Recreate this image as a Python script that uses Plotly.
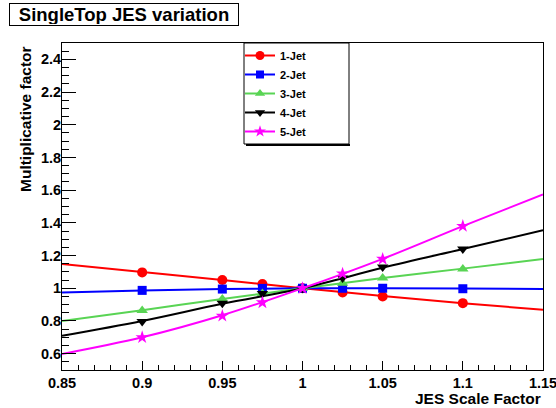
import plotly.graph_objects as go

# ---- data ----
x_points = [0.9, 0.95, 0.975, 1.0, 1.025, 1.05, 1.1]
jet1 = [1.097, 1.050, 1.026, 1.0, 0.974, 0.950, 0.909]
jet2 = [0.987, 0.995, 0.999, 1.0, 1.0, 1.0, 0.997]
jet3 = [0.864, 0.934, 0.968, 1.0, 1.031, 1.063, 1.118]
jet4 = [0.796, 0.909, 0.968, 1.0, 1.063, 1.130, 1.240]
jet5 = [0.700, 0.831, 0.913, 1.0, 1.089, 1.179, 1.380]

x_fit = [0.85, 0.9, 0.95, 1.0, 1.05, 1.1, 1.15]
fit1 = [1.148, 1.099, 1.050, 1.0, 0.952, 0.909, 0.868]
fit2 = [0.974, 0.987, 0.995, 1.0, 1.0, 0.998, 0.995]
fit3 = [0.800, 0.866, 0.934, 1.0, 1.063, 1.120, 1.179]
fit4 = [0.709, 0.800, 0.905, 1.0, 1.125, 1.240, 1.355]
fit5 = [0.598, 0.700, 0.835, 1.0, 1.180, 1.380, 1.574]

names = ["1-Jet", "2-Jet", "3-Jet", "4-Jet", "5-Jet"]
colors = ["#ff0000", "#0000ff", "#59d454", "#000000", "#ff00ff"]
symbols = ["circle", "square", "triangle-up", "triangle-down", "star"]
sizes = [10, 9, 10, 10, 10]
points = [jet1, jet2, jet3, jet4, jet5]
fits = [fit1, fit2, fit3, fit4, fit5]

FONT = "Liberation Sans, Arial, sans-serif"

fig = go.Figure()
for name, c, s, sz, p, f in zip(names, colors, symbols, sizes, points, fits):
    fig.add_trace(go.Scatter(x=x_fit, y=f, mode="lines", line=dict(color=c, width=2, shape="spline"),
                             showlegend=False, hoverinfo="skip"))
    fig.add_trace(go.Scatter(x=x_points, y=p, mode="markers",
                             marker=dict(color=c, symbol=s, size=sz, line=dict(width=0)),
                             showlegend=False))
for name, c, s, sz in zip(names, colors, symbols, sizes):
    fig.add_trace(go.Scatter(x=[None], y=[None], mode="lines+markers", name=name,
                             line=dict(color=c, width=2),
                             marker=dict(color=c, symbol=s, size=sz - 1, line=dict(width=0))))

L, R, T, B = 62, 13, 43, 38
W, H = 556, 408
pw, ph = W - L - R, H - T - B


def px(xp):
    return (xp - L) / pw


def py(yp):
    return (H - B - yp) / ph


fig.update_layout(
    width=W, height=H,
    margin=dict(l=L, r=R, t=T, b=B, pad=0, autoexpand=False),
    paper_bgcolor="white", plot_bgcolor="white",
    font=dict(family=FONT, size=14, color="black", weight="bold"),
    legend=dict(x=px(240), y=py(41), xanchor="left", yanchor="top",
                bgcolor="rgba(0,0,0,0)", borderwidth=0,
                font=dict(family=FONT, size=11, weight="bold"),
                itemwidth=30),
    xaxis=dict(range=[0.85, 1.15], tickvals=[0.85, 0.9, 0.95, 1.0, 1.05, 1.1, 1.15],
               ticktext=["0.85", "0.9", "0.95", "1", "1.05", "1.1", "1.15"],
               ticks="inside", ticklen=9, tickcolor="black", tickwidth=1,
               minor=dict(dtick=0.01, tick0=0.85, ticks="inside", ticklen=5, tickcolor="black"),
               showline=True, linecolor="black", linewidth=1, mirror=True,
               showgrid=False, zeroline=False, tickfont=dict(size=14.5),
               ticklabeloverflow="allow", automargin=False),
    yaxis=dict(range=[0.5, 2.5], tickvals=[0.6, 0.8, 1.0, 1.2, 1.4, 1.6, 1.8, 2.0, 2.2, 2.4],
               ticktext=["0.6", "0.8", "1", "1.2", "1.4", "1.6", "1.8", "2", "2.2", "2.4"],
               ticks="inside", ticklen=14, tickcolor="black", tickwidth=1,
               minor=dict(dtick=0.05, tick0=0.5, ticks="inside", ticklen=7, tickcolor="black"),
               showline=True, linecolor="black", linewidth=1, mirror=True,
               showgrid=False, zeroline=False, tickfont=dict(size=14.5),
               ticklabelstandoff=-3, automargin=False),
)

# legend box with ROOT-like shadow
fig.add_shape(type="line", xref="paper", yref="paper", x0=px(246), x1=px(350), y0=py(145), y1=py(145),
              line=dict(color="black", width=2), layer="above")
fig.add_shape(type="rect", xref="paper", yref="paper", x0=px(244), x1=px(349), y0=py(43), y1=py(144),
              line=dict(color="black", width=1), fillcolor="white", layer="above")

fig.add_annotation(text="SingleTop JES variation", xref="paper", yref="paper",
                   x=px(9), y=py(3), xanchor="left", yanchor="top", showarrow=False,
                   font=dict(size=18.5, family=FONT, weight="bold"),
                   bordercolor="black", borderwidth=1, bgcolor="white",
                   width=226, height=19, align="center", borderpad=1)
fig.add_annotation(text="Multiplicative factor", xref="paper", yref="paper",
                   x=px(25), y=py(44), xanchor="center", yanchor="top", textangle=-90,
                   showarrow=False, font=dict(size=15.5, family=FONT, weight="bold"))
fig.add_annotation(text="JES Scale Factor", xref="paper", yref="paper",
                   x=1.0, y=py(398), xanchor="right", yanchor="middle",
                   showarrow=False, font=dict(size=15.5, family=FONT, weight="bold"))

fig.write_html("out.html")
